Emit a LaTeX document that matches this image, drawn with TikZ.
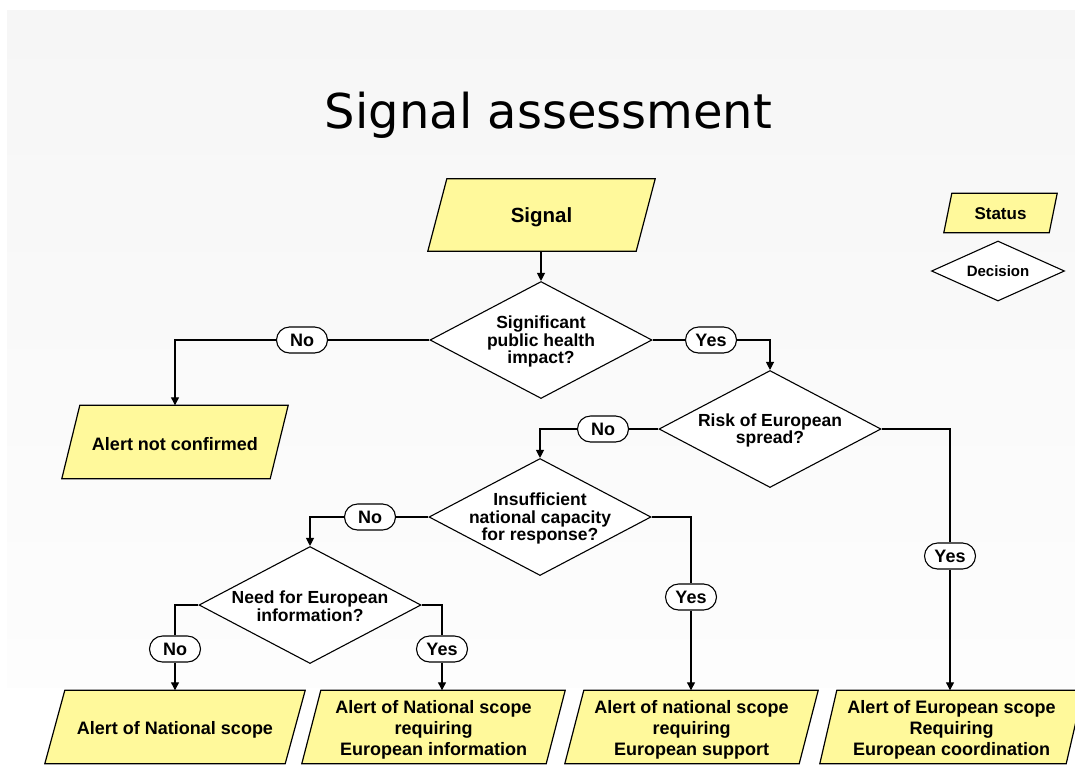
\documentclass[tikz,border=0pt]{standalone}
\usepackage{fontspec}
\setmainfont{Liberation Sans}
\newfontfamily\titlefont{DejaVu Sans}
\usetikzlibrary{shapes.geometric,arrows.meta}
\definecolor{boxyellow}{HTML}{FFF99B}
\definecolor{bgtop}{HTML}{F6F6F6}
\definecolor{bgbottom}{HTML}{FDFDFD}
\pgfdeclarelayer{background}
\pgfsetlayers{background,main}
\begin{document}
\begin{tikzpicture}[x=1pt,y=-1pt,
  status/.style={rectangle, inner sep=0pt,
    label={[align=center, inner sep=0pt, yshift=-2.5pt, font=\fontsize{18}{21}\selectfont\bfseries]center:#1}},
  parallelo/.style={draw, line width=1.2pt, fill=boxyellow, line join=miter},
  decision/.style={diamond, draw, fill=white, line width=1.1pt, inner sep=0pt,
    minimum width=222pt, minimum height=117pt,
    label={[align=center, inner sep=0pt, yshift=-1.5pt, font=\fontsize{17.5}{17.7}\selectfont\bfseries]center:#1}},
  answer/.style={draw, rounded corners=13pt, fill=white, line width=1.1pt,
    minimum width=51pt, minimum height=26pt, inner sep=0pt,
    font=\fontsize{18}{18}\selectfont\bfseries},
  link/.style={line width=1.1pt},
  arrow/.style={link, -{Triangle[length=8pt,width=8pt]}}
]
\useasboundingbox (0,0) rectangle (1075,769);

\node[anchor=base] (title) at (548.5,128) {\titlefont\fontsize{48}{56}\selectfont Signal assessment};

\node[rectangle, inner sep=0pt, minimum width=227pt, minimum height=72pt,
  label={[inner sep=0pt, yshift=-2pt, font=\fontsize{20.5}{24}\selectfont\bfseries]center:Signal}] (signal) at (541.5,215) {};
\node[decision={Significant\\public health\\impact?}] (d1) at (541,340) {};
\node[status={Alert not confirmed}, minimum width=226pt, minimum height=73pt] (anc) at (175,442) {};
\node[decision={Risk of European\\spread?}] (d2) at (770,429) {};
\node[decision={Insufficient\\national capacity\\for response?}] (d3) at (540,517) {};
\node[decision={Need for European\\information?}] (d4) at (310,605) {};

\node[status={Alert of National scope}, minimum width=260pt, minimum height=73pt] (b1) at (175,727) {};
\node[status={Alert of National scope\\requiring\\European information}, minimum width=263pt, minimum height=73pt] (b2) at (433.5,727) {};
\node[status={Alert of national scope\\requiring\\European support}, minimum width=253pt, minimum height=73pt] (b3) at (691.5,727) {};
\node[status={Alert of European scope\\Requiring\\European coordination}, minimum width=263pt, minimum height=73pt] (b4) at (951.5,727) {};

\node[rectangle, inner sep=0pt, minimum width=113pt, minimum height=39pt,
  label={[inner sep=0pt, yshift=-1pt, font=\fontsize{17}{20}\selectfont\bfseries]center:Status}] (leg1) at (1000.5,213) {};
\node[diamond, draw, fill=white, line width=1.1pt, inner sep=0pt, minimum width=133pt, minimum height=60pt,
  label={[inner sep=0pt, font=\fontsize{15}{18}\selectfont\bfseries]center:Decision}] (leg2) at (998,271) {};

\begin{pgfonlayer}{background}
\shade[top color=bgtop, bottom color=bgbottom] (7,10) rectangle (1075,687);
\foreach \n/\s in {signal/19pt, anc/18pt, b1/20pt, b2/19pt, b3/19pt, b4/17pt, leg1/8pt}
  \draw[parallelo] ([xshift=\s]\n.north west) -- (\n.north east)
     -- ([xshift=-\s]\n.south east) -- (\n.south west) -- cycle;
\end{pgfonlayer}

\node[answer] (no1) at (302,340) {No};
\node[answer] (yes1) at (711,340) {Yes};
\node[answer] (no2) at (603,429) {No};
\node[answer] (yes2) at (950,556) {Yes};
\node[answer] (no3) at (370,517) {No};
\node[answer] (yes3) at (691,597) {Yes};
\node[answer] (no4) at (175,649) {No};
\node[answer] (yes4) at (442,649) {Yes};

\draw[arrow] (d1.north |- signal.south) -- (d1.north);
\draw[link] (d1.west) -- (no1);
\draw[arrow] (no1) -| (anc.north);
\draw[link] (d1.east) -- (yes1);
\draw[arrow] (yes1) -| (d2.north);
\draw[link] (d2.west) -- (no2);
\draw[arrow] (no2) -| (d3.north);
\draw[link] (d2.east) -| (yes2);
\draw[arrow] (yes2) -- (yes2 |- b4.north);
\draw[link] (d3.west) -- (no3);
\draw[arrow] (no3) -| (d4.north);
\draw[link] (d3.east) -| (yes3);
\draw[arrow] (yes3) -- (yes3 |- b3.north);
\draw[link] (d4.west) -| (no4);
\draw[arrow] (no4) -- (no4 |- b1.north);
\draw[link] (d4.east) -| (yes4);
\draw[arrow] (yes4) -- (yes4 |- b2.north);
\end{tikzpicture}
\end{document}
